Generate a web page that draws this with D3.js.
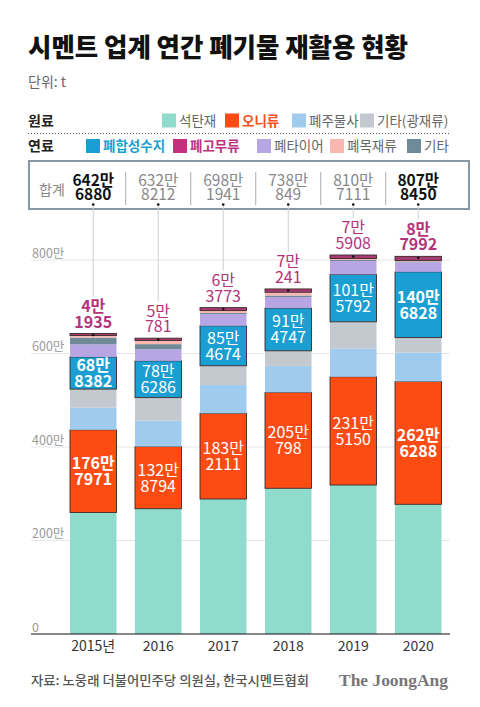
<!DOCTYPE html>
<html><head><meta charset="utf-8">
<script src="https://cdn.jsdelivr.net/npm/d3@7"></script>
<style>
html,body{margin:0;padding:0;background:#fff;}
svg{display:block;font-family:"Noto Sans CJK KR","Noto Sans",sans-serif;}
</style></head>
<body>
<script>
// ---- data (tonnes) ----
const years = ["2015년", "2016", "2017", "2018", "2019", "2020"];
const emphasis = [true, false, false, false, false, true];
const totals = [6426880, 6328212, 6981941, 7380849, 8107111, 8078450];
const coalAsh   = [2600000, 2680000, 2888000, 3117000, 3187000, 2774000]; // 석탄재
const sludge    = [1767971, 1328794, 1832111, 2050798, 2315150, 2626288]; // 오니류
const sand      = [477000, 556000, 605000, 563000, 607000, 620000];       // 폐주물사
const slag      = [394000, 492000, 413000, 327000, 569000, 320000];       // 기타(광재류)
const plastic   = [688382, 786286, 854674, 914747, 1015792, 1406828];     // 폐합성수지
const tire      = [270000, 250000, 244000, 235000, 285000, 203000];       // 폐타이어
const fuelEtc   = [143000, 107000, 31000, 33000, 22000, 20000];           // 기타
const wood      = [45000, 77000, 50000, 70000, 30000, 20000];             // 폐목재류
const rubber    = [41935, 50781, 63773, 70241, 75908, 87992];             // 폐고무류
const yTicks = [0, 200, 400, 600, 800]; // 만 t

const seriesKeys   = ["coal", "sludge", "sand", "slag", "plastic", "tire", "fuelEtc", "wood", "rubber"];
const seriesArrays = [coalAsh, sludge, sand, slag, plastic, tire, fuelEtc, wood, rubber];
const colors = {coal:"#8fdbcc", sludge:"#fc4c14", sand:"#9fcbee", slag:"#c3c9ce",
  plastic:"#1b9fd3", tire:"#b8a5e3", fuelEtc:"#6f8a99", wood:"#f9b7b1", rubber:"#a83a72"};
const stroked = {sludge:true, plastic:true, rubber:true};

const legend1 = [["coal","석탄재"],["sludge","오니류"],["sand","폐주물사"],["slag","기타(광재류)"]];
const legend2 = [["plastic","폐합성수지"],["rubber","폐고무류"],["tire","폐타이어"],["wood","폐목재류"],["fuelEtc","기타"]];
const legendSwatch = {rubber:"#c2307e"};
const legendHighlight = {sludge:"#f2501c", plastic:"#1b9fd3", rubber:"#c0307d"};

const W = 480, H = 707;
const svg = d3.select("body").append("svg").attr("width", W).attr("height", H);

const rows = years.map((y, i) => {
  const r = {year: y, i};
  seriesKeys.forEach((k, j) => r[k] = seriesArrays[j][i] / 10000);
  return r;
});
const stacked = d3.stack().keys(seriesKeys)(rows);

const x = d3.scaleBand().domain(years).range([57, 454.5]).paddingInner(0.285).paddingOuter(0.2);
const y = d3.scaleLinear().domain([0, 800]).range([634, 260]);
const cx = d => x(d) + x.bandwidth() / 2;

// title
svg.append("text").attr("x", 28).attr("y", 57).attr("font-size", 26).attr("font-weight", 900)
  .attr("fill", "#111").attr("textLength", 380).attr("lengthAdjust", "spacingAndGlyphs")
  .text("시멘트 업계 연간 폐기물 재활용 현황");
svg.append("text").attr("x", 28).attr("y", 87).attr("font-size", 14).attr("fill", "#666").text("단위: t");

// legend
function legendRow(items, label, yc, xs) {
  svg.append("text").attr("x", 28).attr("y", yc + 5).attr("font-size", 14).attr("font-weight", 700)
    .attr("fill", "#222").text(label);
  items.forEach(([k, name], i) => {
    svg.append("rect").attr("x", xs[i]).attr("y", yc - 7).attr("width", 14).attr("height", 14)
      .attr("fill", legendSwatch[k] || colors[k]);
    svg.append("text").attr("x", xs[i] + 17).attr("y", yc + 5).attr("font-size", 13.5)
      .attr("font-weight", legendHighlight[k] ? 700 : 400)
      .attr("fill", legendHighlight[k] || "#666").text(name);
  });
}
legendRow(legend1, "원료", 120.5, [162, 225, 292, 360]);
svg.append("line").attr("x1", 28).attr("x2", 450).attr("y1", 133.5).attr("y2", 133.5)
  .attr("stroke", "#555").attr("stroke-dasharray", "1,2");
legendRow(legend2, "연료", 146, [86, 173, 257, 330, 407]);

// gridlines + y labels
const grid = svg.append("g");
yTicks.forEach(t => {
  if (t > 0) grid.append("line").attr("x1", 31).attr("x2", 450).attr("y1", y(t)).attr("y2", y(t))
    .attr("stroke", "#e6e6e6");
  grid.append("text").attr("x", 32).attr("y", y(t) - 2.5).attr("font-size", 12.5).attr("fill", "#9a9a9a")
    .text(t === 0 ? "0" : t + "만");
});

// total box
svg.append("rect").attr("x", 29).attr("y", 161).attr("width", 440).attr("height", 48)
  .attr("fill", "#fff").attr("stroke", "#8797a4").attr("stroke-width", 2);
svg.append("text").attr("x", 39).attr("y", 195).attr("font-size", 14).attr("fill", "#888").text("합계");
const step = x.step();
years.slice(0, -1).forEach(yr => {
  const xx = x(yr) + x.bandwidth() + (step - x.bandwidth()) / 2;
  svg.append("line").attr("x1", xx).attr("x2", xx).attr("y1", 172).attr("y2", 205).attr("stroke", "#aaa");
});
const man = v => Math.floor(v / 10000) + "만";
const rest = v => String(v % 10000);

years.forEach((yr, i) => {
  const bold = emphasis[i];
  const col = bold ? "#111" : "#888";
  const t = svg.append("text").attr("text-anchor", "middle").attr("font-size", 15.5)
    .attr("font-weight", bold ? 700 : 400).attr("fill", col);
  t.append("tspan").attr("x", cx(yr)).attr("y", 185.5).text(man(totals[i]));
  t.append("tspan").attr("x", cx(yr)).attr("y", 200).text(rest(totals[i]));
});

// leader lines
years.forEach((yr, i) => {
  const top = y(totals[i] / 10000);
  svg.append("line").attr("x1", cx(yr)).attr("x2", cx(yr)).attr("y1", 205).attr("y2", top - 37)
    .attr("stroke", "#cfcfcf");
  svg.append("circle").attr("cx", cx(yr)).attr("cy", 204.5).attr("r", 1.3).attr("fill", "#111");
});

// bars
const gBars = svg.append("g");
stacked.forEach(layer => {
  gBars.selectAll(null).data(layer).join("rect")
    .attr("x", d => x(d.data.year))
    .attr("y", d => y(d[1]))
    .attr("width", x.bandwidth())
    .attr("height", d => Math.max(0, y(d[0]) - y(d[1])))
    .attr("fill", colors[layer.key])
    .attr("stroke", stroked[layer.key] ? "#3a2a2a" : "none")
    .attr("stroke-width", stroked[layer.key] ? 0.9 : 0);
});
// top dots
years.forEach((yr, i) => {
  svg.append("circle").attr("cx", cx(yr)).attr("cy", y(totals[i] / 10000) + 1.5).attr("r", 1.3).attr("fill", "#111");
});

// baseline
svg.append("line").attr("x1", 31).attr("x2", 450).attr("y1", 634).attr("y2", 634)
  .attr("stroke", "#111").attr("stroke-width", 1.2);

// in-bar labels
function segLabel(key, values) {
  const layer = stacked.find(s => s.key === key);
  layer.forEach((d, i) => {
    const mid = (y(d[0]) + y(d[1])) / 2;
    const t = svg.append("text").attr("text-anchor", "middle").attr("font-size", 16)
      .attr("font-weight", emphasis[i] ? 700 : 400).attr("fill", "#fff");
    t.append("tspan").attr("x", cx(d.data.year)).attr("y", mid - 2).text(man(values[i]));
    t.append("tspan").attr("x", cx(d.data.year)).attr("y", mid + 14).text(rest(values[i]));
  });
}
segLabel("sludge", sludge);
segLabel("plastic", plastic);

// rubber labels above bars
years.forEach((yr, i) => {
  const top = y(totals[i] / 10000);
  const t = svg.append("text").attr("text-anchor", "middle").attr("font-size", 16)
    .attr("font-weight", emphasis[i] ? 700 : 400).attr("fill", "#b3347a");
  t.append("tspan").attr("x", cx(yr)).attr("y", top - 21.5).text(man(rubber[i]));
  t.append("tspan").attr("x", cx(yr)).attr("y", top - 6).text(rest(rubber[i]));
});

// x labels
years.forEach(yr => {
  svg.append("text").attr("x", cx(yr)).attr("y", 651).attr("text-anchor", "middle")
    .attr("font-size", 14).attr("fill", "#333").text(yr);
});

// footer
svg.append("text").attr("x", 31).attr("y", 685).attr("font-size", 13).attr("font-weight", 500)
  .attr("fill", "#555").attr("textLength", 278).attr("lengthAdjust", "spacingAndGlyphs")
  .text("자료: 노웅래 더불어민주당 의원실, 한국시멘트협회");
svg.append("text").attr("x", 339).attr("y", 686).attr("font-size", 17.5).attr("font-weight", 700)
  .attr("font-family", "'Liberation Serif','DejaVu Serif',serif").attr("fill", "#777")
  .attr("textLength", 109).attr("lengthAdjust", "spacingAndGlyphs").text("The JoongAng");
</script>
</body></html>
